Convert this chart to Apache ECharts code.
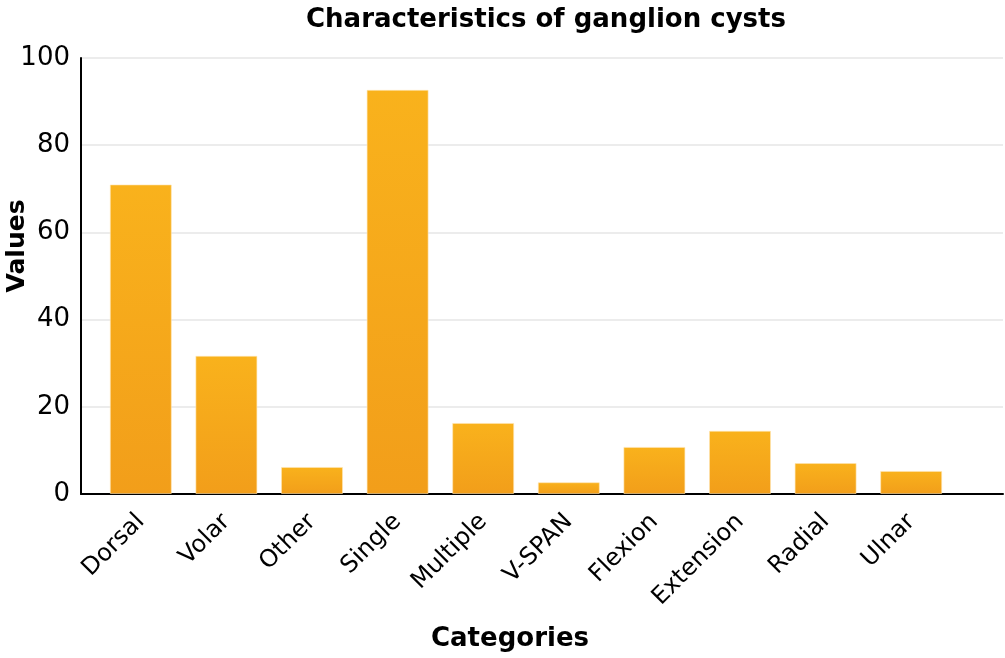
<!DOCTYPE html>
<html><head><meta charset="utf-8">
<script src="https://cdn.jsdelivr.net/npm/echarts@6/dist/echarts.min.js"></script>
<style>html,body{margin:0;padding:0;background:#fff}#c{width:1005px;height:658px}</style>
</head><body><div id="c"></div>
<script>
const categories = ["Dorsal","Volar","Other","Single","Multiple","V-SPAN","Flexion","Extension","Radial","Ulnar"];
const values = [71, 31.7, 6.2, 92.7, 16.3, 2.7, 10.8, 14.5, 7.1, 5.3];
const yTicks = [0, 20, 40, 60, 80, 100];

const FONT = "DejaVu Sans";
const chart = echarts.init(document.getElementById('c'));
chart.setOption({
  animation: false,
  title: [
    { text: "Characteristics of ganglion cysts", left: 541, top: 2, textAlign: 'center',
      textStyle: { fontFamily: FONT, fontWeight: 'bold', fontSize: 26, color: '#000' } },
    { text: "Categories", left: 505, top: 621, textAlign: 'center',
      textStyle: { fontFamily: FONT, fontWeight: 'bold', fontSize: 26, color: '#000' } }
  ],
  graphic: [{
    type: 'text', x: 17, y: 246, rotation: Math.PI / 2,
    style: { text: 'Values', fontFamily: FONT, fontWeight: 'bold', fontSize: 25, fill: '#000',
      align: 'center', verticalAlign: 'middle' }
  }],
  grid: [
    { left: 81, right: 2, top: 58, bottom: 164, containLabel: false, outerBoundsMode: 'none' },
    { left: 98, right: 51, top: 58, bottom: 164, containLabel: false, outerBoundsMode: 'none' }
  ],
  xAxis: [{
    type: 'value', gridIndex: 0, min: 0, max: 1,
    axisLine: { show: true, onZero: false, lineStyle: { color: '#000', width: 2 } },
    axisTick: { show: false }, splitLine: { show: false }, axisLabel: { show: false }
  }, {
    type: 'category', gridIndex: 1, data: categories,
    axisLine: { show: false }, axisTick: { show: false }, splitLine: { show: false },
    axisLabel: { interval: 0, rotate: 45, margin: 24,
      fontFamily: FONT, fontSize: 24, color: '#000' }
  }],
  yAxis: [{
    type: 'value', gridIndex: 0, min: 0, max: 100, interval: 20,
    axisLine: { show: true, onZero: false, lineStyle: { color: '#000', width: 2 } },
    axisTick: { show: false },
    splitLine: { show: true, lineStyle: { color: '#e6e6e6', width: 1.5 } },
    axisLabel: { fontFamily: FONT, fontSize: 26, color: '#000', margin: 11,
      formatter: v => yTicks.includes(v) ? String(v) : '' }
  }, {
    type: 'value', gridIndex: 1, min: 0, max: 100, interval: 20, show: false,
    splitLine: { show: false }
  }],
  series: [{
    type: 'bar', xAxisIndex: 1, yAxisIndex: 1, barWidth: 62,
    data: values,
    itemStyle: {
      color: new echarts.graphic.LinearGradient(0,0,0,1,[
        {offset:0,color:'#F9B21C'},{offset:1,color:'#F29E1A'}]),
      borderColor: 'rgba(255,230,180,0.6)', borderWidth: 1
    }
  }]
});
</script></body></html>
